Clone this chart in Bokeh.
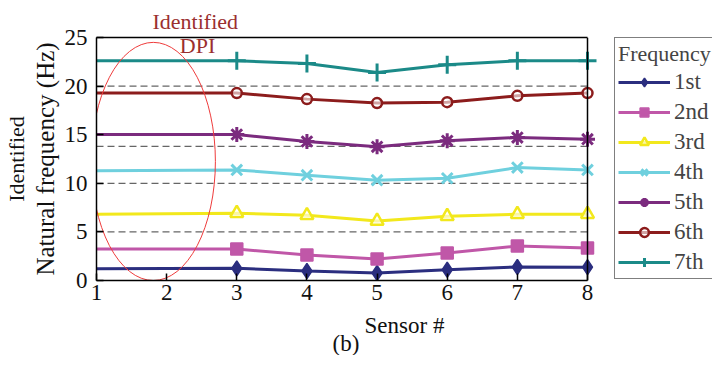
from bokeh.plotting import figure
from bokeh.models import Span, Label, Legend, LegendItem, LinearAxis, FixedTicker, Title
from bokeh.embed import file_html
from bokeh.resources import INLINE

# ---- data ----
sensors = [3, 4, 5, 6, 7, 8]
dpi_sensor = 1
x_ticks = [1, 2, 3, 4, 5, 6, 7, 8]
y_ticks = [0, 5, 10, 15, 20, 25]
grid_levels = [5, 10, 13.8, 20]
labels = ["1st", "2nd", "3rd", "4th", "5th", "6th", "7th"]
start_1 = 1.22
f1 = [1.25, 0.98, 0.77, 1.11, 1.39, 1.37]
start_2 = 3.24
f2 = [3.24, 2.63, 2.21, 2.83, 3.55, 3.35]
start_3 = 6.82
f3 = [6.92, 6.71, 6.13, 6.61, 6.82, 6.82]
start_4 = 11.28
f4 = [11.38, 10.83, 10.32, 10.52, 11.62, 11.38]
start_5 = 15.02
f5 = [15.02, 14.30, 13.75, 14.37, 14.71, 14.54]
start_6 = 19.28
f6 = [19.28, 18.66, 18.25, 18.35, 19.00, 19.28]
start_7 = 22.60
f7 = [22.60, 22.33, 21.40, 22.20, 22.60, 22.60]

starts = [start_1, start_2, start_3, start_4, start_5, start_6, start_7]
series = [f1, f2, f3, f4, f5, f6, f7]
colors = ["#2b2e7f", "#c057a8", "#f2e81c", "#6fd0de", "#7b2b7e", "#8c1c1c", "#1b8a88"]
markers = ["diamond", "square", "triangle", "x", "asterisk", "circle", "cross"]

SERIF = "Liberation Serif"
TXT = "#111111"
X_LO, X_HI = x_ticks[0], x_ticks[-1]
# frame is widened to the right so that the legend box can sit beside the axes box
X_VIEW_HI = X_HI + (712 - 96 - 491) / (491 / (X_HI - X_LO))

p = figure(width=712, height=355, x_range=(X_LO, X_VIEW_HI), y_range=(0, 25),
           output_backend="svg", toolbar_location=None,
           min_border_left=96, min_border_right=0, min_border_top=37, min_border_bottom=75)
p.xgrid.visible = False
p.ygrid.visible = False
p.outline_line_color = None

for ax in (p.xaxis[0], p.yaxis[0]):
    ax.major_label_text_font = SERIF
    ax.major_label_text_font_size = "23px"
    ax.major_label_text_color = TXT
    ax.axis_line_color = "black"
    ax.axis_line_width = 1.5
    ax.major_tick_in = 7
    ax.major_tick_out = 0
    ax.major_tick_line_width = 1.5
    ax.minor_tick_line_color = None
    ax.axis_label_text_font = SERIF
    ax.axis_label_text_font_style = "normal"
    ax.axis_label_text_color = TXT
p.xaxis[0].ticker = FixedTicker(ticks=x_ticks)
p.xaxis[0].bounds = (X_LO, X_HI)
p.yaxis[0].ticker = FixedTicker(ticks=y_ticks)
p.xaxis[0].major_label_standoff = 4
p.yaxis[0].major_label_standoff = 9
p.xaxis[0].axis_label = "Sensor #"
p.xaxis[0].axis_label_text_font_size = "23px"
p.xaxis[0].axis_label_standoff = 10
p.yaxis[0].axis_label = "Natural frequency (Hz)"
p.yaxis[0].axis_label_text_font_size = "25px"
p.yaxis[0].axis_label_standoff = 3

# first line of the y title
yax2 = LinearAxis(axis_label="Identified", axis_label_text_font=SERIF,
                  axis_label_text_font_size="22px", axis_label_text_font_style="normal",
                  axis_label_text_color=TXT, axis_line_color=None,
                  ticker=FixedTicker(ticks=[]), major_tick_line_color=None,
                  minor_tick_line_color=None, major_tick_out=0, major_tick_in=0,
                  major_label_standoff=0, axis_label_standoff=0)
p.add_layout(yax2, "left")

# top spine of the axes box
tax = LinearAxis(bounds=(X_LO, X_HI), axis_line_width=1.5, ticker=FixedTicker(ticks=[]),
                 major_tick_line_color=None, minor_tick_line_color=None,
                 major_tick_out=0, major_tick_in=0, major_label_standoff=0)
p.add_layout(tax, "above")
# right spine
p.add_layout(Span(location=X_HI, dimension="height", line_color="black", line_width=1.5))

p.add_layout(Title(text="(b)", align="left", offset=236, text_font=SERIF, text_font_size="23px",
                   text_font_style="normal", text_color=TXT, standoff=-23), "below")
p.add_layout(Title(text="Identified", align="left", offset=56, text_font=SERIF,
                   text_font_size="22px", text_font_style="normal", text_color="#9b2f2f",
                   standoff=7), "above")

# dashed reference lines inside the axes box
p.segment(x0=[X_LO] * len(grid_levels), x1=[X_HI] * len(grid_levels),
          y0=grid_levels, y1=grid_levels, line_color="#666666", line_dash="7 4", line_width=1.2)

items = []
for lab, st, vals, c, m in zip(labels, starts, series, colors, markers):
    lr = p.line([dpi_sensor] + sensors, [st] + vals, line_color=c, line_width=3)
    if m in ("diamond", "square"):
        mr = p.scatter(sensors, vals, marker=m, size=12 if m == "square" else 15,
                       fill_color=c, line_color=c, line_width=1.5)
    elif m in ("triangle", "circle"):
        mr = p.scatter(sensors, vals, marker=m, size=13 if m == "triangle" else 10,
                       fill_color="white", fill_alpha=0.6, line_color=c, line_width=2.5)
    else:
        mr = p.scatter(sensors, vals, marker=m, size=15 if m != "cross" else 18,
                       line_color=c, line_width=3)
    items.append(LegendItem(label=lab, renderers=[lr, mr]))

legend = Legend(items=items, location=(518, 1), title="Frequency",
                title_text_font=SERIF, title_text_font_size="22px",
                title_text_font_style="normal", title_standoff=2,
                label_text_font=SERIF, label_text_font_size="23px",
                glyph_width=52, glyph_height=22, label_standoff=4,
                spacing=4, padding=3, margin=0,
                border_line_color="black", border_line_width=1.5,
                background_fill_color="white", background_fill_alpha=1.0)
p.add_layout(legend)

# DPI ellipse annotation
p.ellipse(x=1.81, y=12.25, width=1.77, height=24.5, fill_color=None,
          line_color="#ee3b3b", line_width=1)
p.add_layout(Label(x=2.44, y=24.15, text="DPI", text_font=SERIF, text_font_size="22px",
                   text_color="#9b2f2f", text_align="center", text_baseline="middle"))

open("out.html", "w").write(file_html(p, INLINE))
